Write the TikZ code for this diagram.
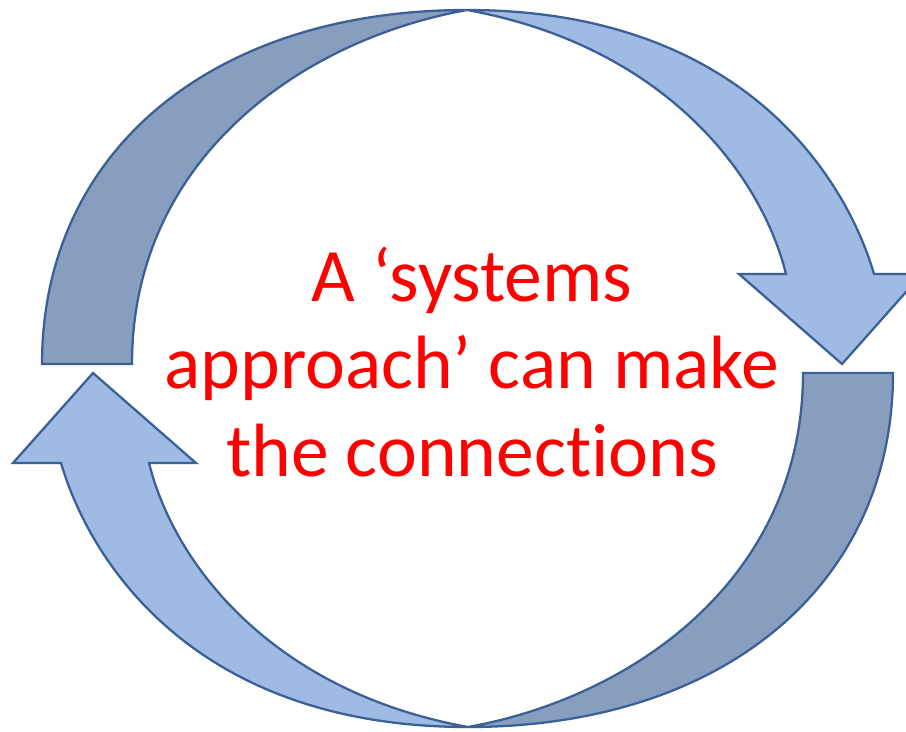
\documentclass[tikz,border=0pt]{standalone}
\usepackage{fontspec}
\usepackage{xcolor}
\usepackage{tikz}
\newfontfamily\slogfont[Ligatures=NoCommon]{Carlito}
\definecolor{ribbonline}{RGB}{58,96,150}
\definecolor{ribbonback}{RGB}{135,158,191}
\definecolor{ribbonfront}{RGB}{159,187,227}

\begin{document}
\begin{tikzpicture}[x=0.02cm, y=-0.02cm]
    % Define styles
    \tikzstyle{backside} = [draw=ribbonline, line width=1.3pt, line join=miter, fill=ribbonback]
    \tikzstyle{frontside} = [draw=ribbonline, line width=1.3pt, line join=miter, fill=ribbonfront]
    \tikzstyle{slogantext} = [align=center, inner sep=0pt, text=red, font=\slogfont\fontsize{43}{50}\selectfont]

    % Canvas, pixel units from the top left corner
    \clip (0,0) rectangle (906,731);
    \coordinate (mid) at (467.5,368.5);

    % Top arrow: back side on the left, front side and head on the right
    \draw [backside] (42,364) .. controls (42,151.6) and (212,10) .. (467,10)
        .. controls (300,40) and (132,160) .. (132,364) -- cycle;
    \draw [frontside] (467,10) .. controls (740,10) and (845,175) .. (874,274)
        -- (922,274) -- (842,364) -- (739,274) -- (786,274)
        .. controls (760,170) and (660,45) .. (467,10) -- cycle;

    % Bottom arrow: the same ribbon turned half round
    \begin{scope}[rotate around={180:(mid)}]
        \draw [backside] (42,364) .. controls (42,151.6) and (212,10) .. (467,10)
            .. controls (300,40) and (132,160) .. (132,364) -- cycle;
        \draw [frontside] (467,10) .. controls (740,10) and (845,175) .. (874,274)
            -- (922,274) -- (842,364) -- (739,274) -- (786,274)
            .. controls (760,170) and (660,45) .. (467,10) -- cycle;
    \end{scope}

    % Message in the middle
    \node (slogan) [slogantext] at (472,362) {A ‘systems\\approach’ can make\\the connections};
\end{tikzpicture}
\end{document}
